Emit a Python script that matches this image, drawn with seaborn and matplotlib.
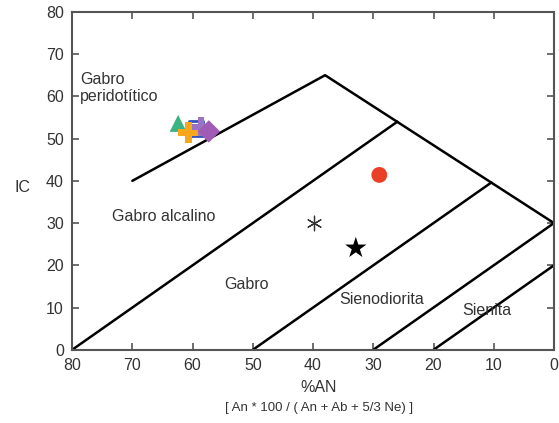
import numpy as np
import pandas as pd
import matplotlib
matplotlib.use("Agg")
import matplotlib.pyplot as plt
import seaborn as sns

# field boundaries (%AN, IC)
upper_x = [70, 38, 0]
upper_y = [40, 65, 30]
div1_x = [80, 26.0]
div1_y = [0, 54.0]
div2_x = [50, 10.4]
div2_y = [0, 39.6]
div3_x = [30, 0]
div3_y = [0, 30]
div4_x = [20, 0]
div4_y = [0, 20]

# samples
sample_x = [62.4, 59.4, 60.7, 58.6, 57.3, 29.0, 39.8, 32.9]
sample_y = [53.6, 52.4, 51.4, 52.8, 51.7, 41.4, 30.0, 24.1]
sample_marker = ["^", "s", "P", "P", "D", "o", "*", "*"]
sample_color = ["#3cb383", "#3355bb", "#f8a61c", "#9b72c4", "#a05cb4", "#ea4027", "#333333", "black"]
sample_size = [150, 110, 220, 180, 130, 130, 110, 260]

field_names = ["Gabro\nperidotítico", "Gabro alcalino", "Gabro", "Sienodiorita", "Sienita"]
field_x = [78.7, 73.4, 54.8, 35.6, 15.3]
field_y = [62.0, 31.5, 15.4, 11.8, 9.2]

sns.set_style("ticks")
plt.rcParams["font.family"] = ["Liberation Sans", "DejaVu Sans"]

fig = plt.figure(figsize=(5.59, 4.23), dpi=100)
ax = fig.add_axes([0.129, 0.173, 0.862, 0.799])

for xs, ys in [(upper_x, upper_y), (div1_x, div1_y), (div2_x, div2_y),
               (div3_x, div3_y), (div4_x, div4_y)]:
    sns.lineplot(x=xs, y=ys, sort=False, color="black", lw=1.8, ax=ax)

for i in range(len(sample_x)):
    m = sample_marker[i]
    if m == "s":
        ax.scatter(sample_x[i], sample_y[i], marker=m, s=sample_size[i],
                   facecolors="none", edgecolors=sample_color[i], linewidths=2, zorder=3)
    elif i == 6:
        ax.scatter(sample_x[i], sample_y[i], marker=(6, 2, 0), s=sample_size[i],
                   color=sample_color[i], linewidths=0.9, zorder=3)
    else:
        ax.scatter(sample_x[i], sample_y[i], marker=m, s=sample_size[i],
                   color=sample_color[i], edgecolors="none", zorder=3)

for name, x, y in zip(field_names, field_x, field_y):
    ax.text(x, y, name, fontsize=11.5, color="#333333", ha="left", va="center")

ax.set_xlim(80, 0)
ax.set_ylim(0, 80)
ax.set_xticks(np.arange(80, -1, -10))
ax.set_yticks(np.arange(0, 81, 10))
ax.tick_params(direction="in", top=True, right=True, length=5, width=1.2,
               color="#555555", labelsize=11.5, labelcolor="#333333", pad=6)
for sp in ax.spines.values():
    sp.set_visible(True)
    sp.set_color("#555555")
    sp.set_linewidth(1.5)

ax.set_xlabel("")
ax.set_ylabel("")
fig.text(0.04, 0.557, "IC", fontsize=11.5, color="#333333", ha="center", va="center")
fig.text(0.57, 0.085, "%AN", fontsize=11.5, color="#333333", ha="center", va="center")
fig.text(0.57, 0.035, "[ An * 100 / ( An + Ab + 5/3 Ne) ]", fontsize=9.5, color="#333333",
         ha="center", va="center")

fig.savefig("out.png", dpi=100)
